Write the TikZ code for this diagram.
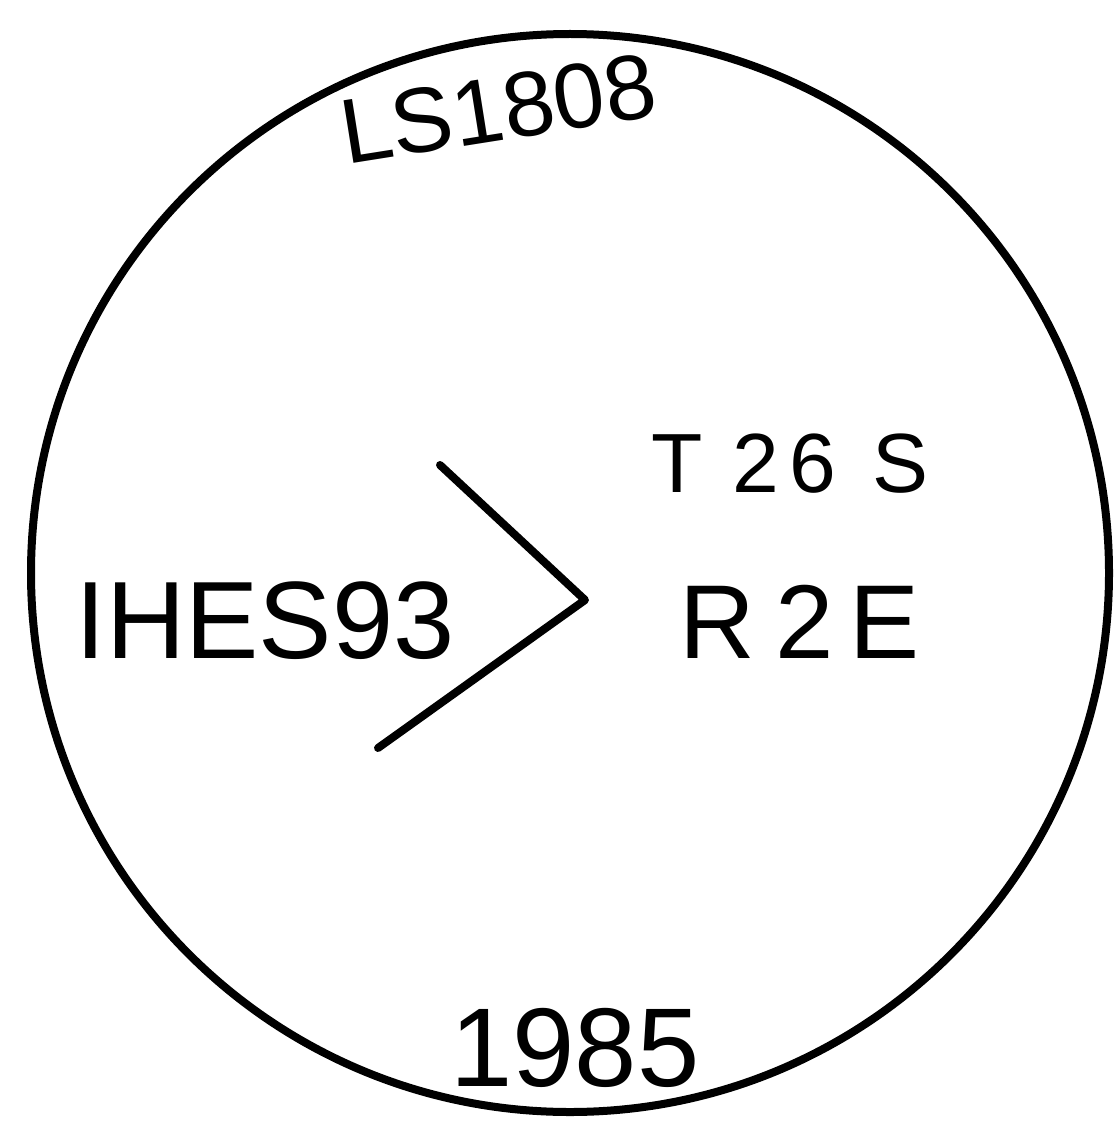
\documentclass[tikz,border=0pt]{standalone}
\usepackage{fontspec}
\setmainfont{Liberation Sans}
\begin{document}
\begin{tikzpicture}[x=1pt,y=-1pt,
  stroke/.style={line width=8pt,line cap=round,line join=round},
  lbl/.style={inner sep=0pt,anchor=base}]
\useasboundingbox[fill=white] (0,0) rectangle (1118,1142);
\node[draw,circle,line width=8pt,minimum size=1078pt,inner sep=0pt] (ring) at (570,573) {};
\node[lbl,rotate=9] (ls) at (503,140) {\fontsize{92}{92}\selectfont LS1808};
\node[lbl] (t) at (790,492) {\fontsize{84}{84}\selectfont T\hspace{30pt}2\hspace{10pt}6\hspace{36pt}S};
\node[lbl] (r) at (800,658) {\fontsize{105}{105}\selectfont R\hspace{20pt}2\hspace{16pt}E};
\node[lbl] (i) at (265,658) {\fontsize{110}{110}\selectfont IHES93};
\node[lbl] (y) at (575,1086) {\fontsize{112}{112}\selectfont 1985};
\coordinate (a) at (440,465);
\coordinate (b) at (585,600);
\coordinate (c) at (378,748);
\draw[stroke] (a) -- (b) -- (c);
\end{tikzpicture}
\end{document}
